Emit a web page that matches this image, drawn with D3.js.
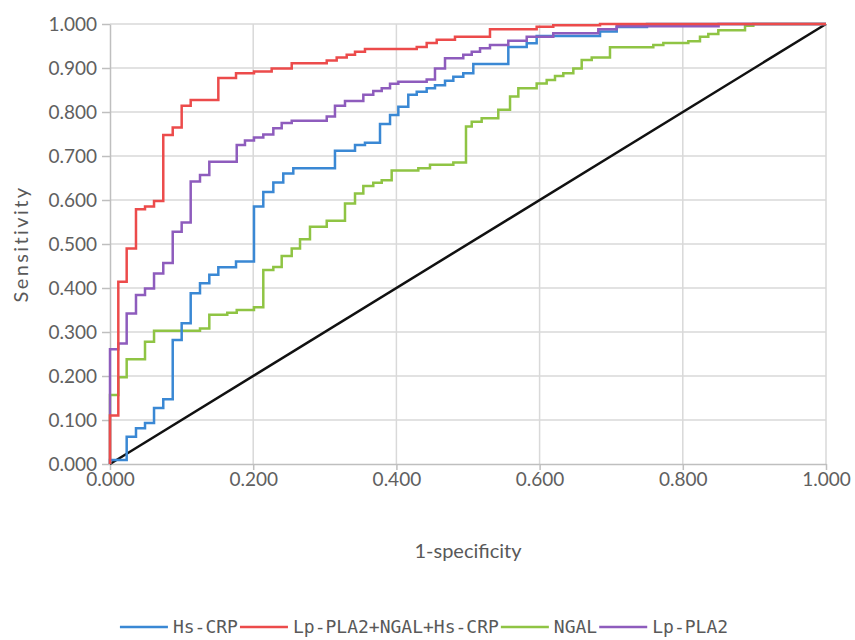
<!DOCTYPE html>
<html>
<head>
<meta charset="utf-8">
<script src="https://cdn.jsdelivr.net/npm/d3@7"></script>
<style>
  body { margin: 0; background: #fff; }
  .grid line { stroke: #d9d9d9; stroke-width: 1.5; }
  .axis path, .axis line { stroke: #bfbfbf; stroke-width: 1.5; }
  .axis text { font-family: Lato, "Open Sans", sans-serif; font-size: 19px; fill: #606060; }
  .axisTitle { font-family: Lato, "Open Sans", sans-serif; font-size: 20px; fill: #595959; }
  .legend text { font-family: "DejaVu Sans Mono", monospace; font-size: 18px; fill: #595959; }
</style>
</head>
<body>
<div id="chart"></div>
<script>
(function(){

  //series names and colours
  var seriesNames = ["Hs-CRP", "Lp-PLA2+NGAL+Hs-CRP", "NGAL", "Lp-PLA2"];
  var seriesColors = ["#3a88d4", "#ec4b4b", "#8fc444", "#8e5cbd"];

  //tick values for both axes
  var xTicks = [0, 0.2, 0.4, 0.6, 0.8, 1.0];
  var yTicks = [0, 0.1, 0.2, 0.3, 0.4, 0.5, 0.6, 0.7, 0.8, 0.9, 1.0];

  //roc points: [1-specificity, sensitivity] after each rise
  var hsCrp = [[0,0],[0,0.009],[0.0233,0.062],[0.0363,0.081],[0.0489,0.093],[0.0615,0.127],
    [0.0744,0.147],[0.0876,0.282],[0.1001,0.320],[0.1127,0.388],[0.1257,0.411],[0.1387,0.430],
    [0.1513,0.447],[0.1760,0.460],[0.2011,0.585],[0.2141,0.618],[0.2281,0.640],[0.2420,0.660],
    [0.2560,0.672],[0.3142,0.712],[0.3422,0.725],[0.3561,0.730],[0.3771,0.773],[0.3911,0.793],
    [0.4027,0.812],[0.4166,0.839],[0.4284,0.846],[0.4423,0.854],[0.4539,0.861],[0.4679,0.871],
    [0.4795,0.880],[0.4934,0.888],[0.5074,0.909],[0.5563,0.948],[0.5820,0.956],[0.5959,0.973],
    [0.6844,0.983],[0.7077,0.993],[0.7500,1.0],[1,1]];

  var combined = [[0,0],[0,0.11],[0.0116,0.414],[0.0233,0.49],[0.0363,0.579],[0.0489,0.585],
    [0.0615,0.598],[0.0744,0.748],[0.0876,0.765],[0.1001,0.814],[0.1127,0.827],[0.1513,0.877],
    [0.1760,0.888],[0.2011,0.892],[0.2258,0.899],[0.2538,0.911],[0.3027,0.917],[0.3166,0.924],
    [0.3306,0.930],[0.3422,0.937],[0.3561,0.943],[0.4284,0.948],[0.4423,0.957],[0.4563,0.964],
    [0.4818,0.971],[0.5307,0.988],[0.5959,0.994],[0.6191,0.997],[0.6844,1.0],[1,1]];

  var ngal = [[0,0],[0,0.157],[0.0116,0.197],[0.0233,0.238],[0.0489,0.278],[0.0615,0.303],
    [0.1257,0.308],[0.1387,0.339],[0.1638,0.344],[0.1770,0.350],[0.2011,0.356],[0.2141,0.441],
    [0.2281,0.448],[0.2398,0.473],[0.2538,0.490],[0.2654,0.511],[0.2793,0.539],[0.3027,0.553],
    [0.3282,0.592],[0.3422,0.615],[0.3538,0.632],[0.3677,0.639],[0.3795,0.645],[0.3934,0.667],
    [0.4306,0.672],[0.4469,0.680],[0.4795,0.685],[0.4972,0.767],[0.5052,0.778],[0.5191,0.786],
    [0.5423,0.805],[0.5587,0.835],[0.5703,0.854],[0.5959,0.865],[0.6099,0.873],[0.6215,0.882],
    [0.6331,0.888],[0.6471,0.899],[0.6588,0.918],[0.6728,0.924],[0.6983,0.947],[0.7588,0.952],
    [0.7728,0.957],[0.8077,0.961],[0.8240,0.971],[0.8356,0.977],[0.8496,0.986],[0.8869,0.996],
    [0.8985,1.0],[1,1]];

  var lpPla2 = [[0,0],[0,0.261],[0.0116,0.274],[0.0233,0.342],[0.0363,0.384],[0.0489,0.399],
    [0.0615,0.433],[0.0744,0.457],[0.0876,0.528],[0.1001,0.549],[0.1127,0.642],[0.1257,0.657],
    [0.1387,0.687],[0.1770,0.725],[0.1885,0.735],[0.2011,0.742],[0.2141,0.749],[0.2281,0.763],
    [0.2398,0.775],[0.2538,0.780],[0.3027,0.790],[0.3142,0.814],[0.3282,0.825],[0.3538,0.839],
    [0.3677,0.848],[0.3795,0.854],[0.3911,0.864],[0.4027,0.869],[0.4423,0.874],[0.4539,0.899],
    [0.4679,0.922],[0.4934,0.930],[0.5052,0.937],[0.5168,0.945],[0.5307,0.952],[0.5563,0.962],
    [0.5820,0.971],[0.6191,0.979],[0.6820,0.988],[0.7077,0.995],[0.8500,1.0],[1,1]];

  //chance line
  var diagonal = [[0,0],[1,1]];

  var seriesData = [hsCrp, combined, ngal, lpPla2];

  window.onload = setChart();

  function setChart(){
    var width = 855,
        height = 640,
        left = 110,
        top = 24,
        innerWidth = 716,
        innerHeight = 440;

    var svg = d3.select("#chart")
      .append("svg")
      .attr("width", width)
      .attr("height", height);

    var x = d3.scaleLinear().domain([0, 1]).range([left, left + innerWidth]);
    var y = d3.scaleLinear().domain([0, 1]).range([top + innerHeight, top]);

    //horizontal gridlines
    svg.append("g")
      .attr("class", "grid")
      .selectAll("line")
      .data(yTicks.slice(1))
      .enter()
      .append("line")
      .attr("x1", x(0)).attr("x2", x(1))
      .attr("y1", function(d){ return y(d); })
      .attr("y2", function(d){ return y(d); });

    //vertical gridlines
    svg.append("g")
      .attr("class", "grid")
      .selectAll("line")
      .data(xTicks.slice(1))
      .enter()
      .append("line")
      .attr("y1", y(0)).attr("y2", y(1))
      .attr("x1", function(d){ return x(d); })
      .attr("x2", function(d){ return x(d); });

    //axes
    var yAxis = d3.axisLeft(y)
      .tickValues(yTicks)
      .tickFormat(d3.format(".3f"))
      .tickSize(8)
      .tickSizeOuter(0)
      .tickPadding(5);

    var xAxis = d3.axisBottom(x)
      .tickValues(xTicks)
      .tickFormat(d3.format(".3f"))
      .tickSize(6)
      .tickSizeOuter(0)
      .tickPadding(3);

    svg.append("g")
      .attr("class", "axis")
      .attr("transform", "translate(" + left + ",0)")
      .call(yAxis)
      .selectAll("text").attr("dy", "0.35em");

    svg.append("g")
      .attr("class", "axis")
      .attr("transform", "translate(0," + (top + innerHeight) + ")")
      .call(xAxis);

    //roc step lines
    var stepLine = d3.line()
      .x(function(d){ return x(d[0]); })
      .y(function(d){ return y(d[1]); })
      .curve(d3.curveStepAfter);

    svg.append("path")
      .datum(diagonal)
      .attr("fill", "none")
      .attr("stroke", "#111")
      .attr("stroke-width", 2.5)
      .attr("d", d3.line().x(function(d){ return x(d[0]); }).y(function(d){ return y(d[1]); }));

    //draw order: green, blue, purple, red on top
    [2, 0, 3, 1].forEach(function(i){
      svg.append("path")
        .datum(seriesData[i])
        .attr("fill", "none")
        .attr("stroke", seriesColors[i])
        .attr("stroke-width", 2.5)
        .attr("d", stepLine);
    });

    //axis titles
    svg.append("text")
      .attr("class", "axisTitle")
      .attr("x", x(0.5))
      .attr("y", 558)
      .attr("text-anchor", "middle")
      .text("1-specificity");

    svg.append("text")
      .attr("class", "axisTitle")
      .attr("transform", "translate(28," + y(0.5) + ") rotate(-90)")
      .attr("text-anchor", "middle")
      .attr("letter-spacing", "2.4px")
      .text("Sensitivity");

    //legend, items laid out from measured text widths then centred
    var legend = svg.append("g").attr("class", "legend");
    var cursor = 0;
    seriesNames.forEach(function(name, i){
      legend.append("line")
        .attr("x1", cursor).attr("x2", cursor + 48)
        .attr("y1", 0).attr("y2", 0)
        .attr("stroke", seriesColors[i])
        .attr("stroke-width", 2.5);
      var t = legend.append("text")
        .attr("x", cursor + 53)
        .attr("y", 6)
        .text(name);
      cursor += 53 + t.node().getComputedTextLength() + 2;
    });
    legend.attr("transform", "translate(" + (425 - cursor / 2) + ",627)");
  };

})();
</script>
</body>
</html>
